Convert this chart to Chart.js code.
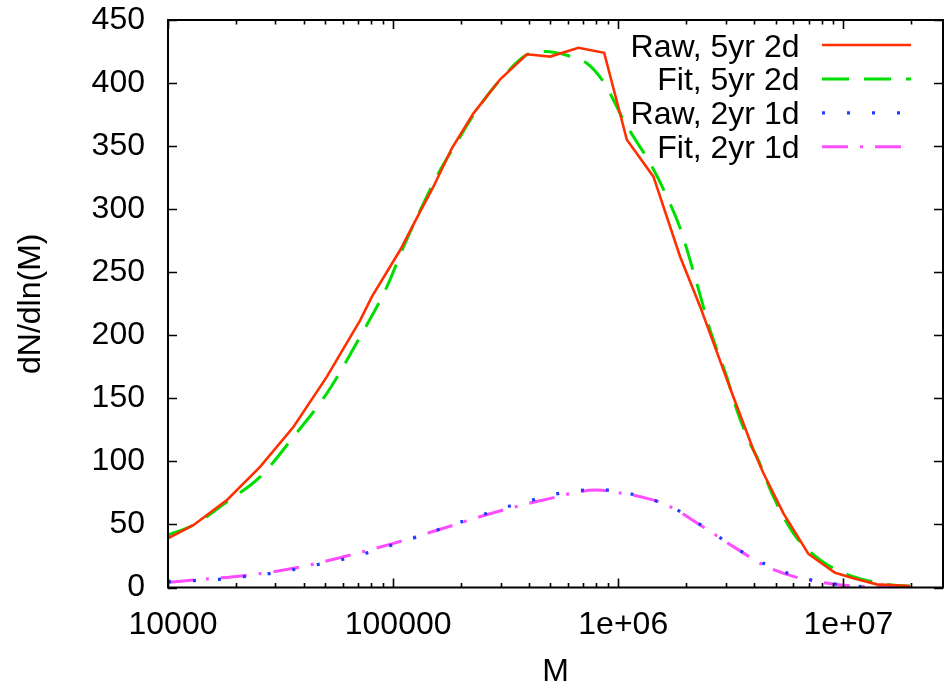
<!DOCTYPE html>
<html>
<head>
<meta charset="utf-8">
<title>dN/dln(M)</title>
<style>
  html, body { margin: 0; padding: 0; background: #ffffff; overflow: hidden; }
  #wrap { width: 944px; height: 689px; }
</style>
<script src="https://cdn.jsdelivr.net/npm/chart.js@4.4.0/dist/chart.umd.min.js"></script>
</head>
<body>
<div id="wrap"><canvas id="c" width="944" height="689"></canvas></div>
<script>
// Mass bins and counts, raw 5yr 2d sample
const raw5Mass  = [1.0e4, 1.30e4, 1.828e4, 2.57e4, 3.612e4, 5.08e4, 7.145e4, 8.05e4, 1.075e5, 1.318e5,
                   1.51e5, 1.823e5, 2.274e5, 2.99e5, 3.927e5, 4.985e5, 6.655e5, 8.656e5, 1.092e6, 1.433e6,
                   1.883e6, 2.311e6, 3.247e6, 3.985e6, 4.415e6, 5.415e6, 6.993e6, 9.186e6, 1.108e7, 1.407e7, 1.978e7];
const raw5Count = [39, 49.6, 69.4, 95.8, 127.5, 167.2, 212, 230.6, 267.6, 298,
                   317.8, 348.3, 376, 403, 422.8, 421, 428, 424, 355, 325.8,
                   262.3, 222.7, 151, 109, 90.6, 58.8, 26.6, 11.7, 7.3, 2.5, 1.2];

// Fitted curve, 5yr 2d sample
const fit5Mass  = [1.0e4, 1.30e4, 1.828e4, 2.57e4, 3.612e4, 5.08e4, 7.145e4, 9.386e4, 1.112e5, 1.343e5,
                   1.619e5, 1.986e5, 2.274e5, 2.99e5, 4.062e5, 4.737e5, 5.913e5, 7.253e5, 8.595e5, 9.521e5,
                   1.055e6, 1.168e6, 1.386e6, 1.644e6, 1.883e6, 2.234e6, 2.559e6, 3.035e6, 3.362e6, 3.853e6,
                   4.126e6, 4.89e6, 5.998e6, 7.883e6, 1.108e7, 1.559e7, 1.978e7];
const fit5Count = [41.6, 49.6, 68, 87.9, 119.6, 154, 199, 238.5, 270, 302,
                   331, 357.5, 374.7, 402.5, 423.6, 425, 422, 415.7, 401, 386.6,
                   370.7, 357.5, 336.4, 310, 285, 241, 204, 167, 140.8, 114,
                   103.7, 72, 43, 21.8, 8.6, 2.5, 1];

// Mass bins and counts, raw 2yr 1d sample
const raw2Mass  = [1.0e4, 1.30e4, 1.678e4, 2.166e4, 2.752e4, 3.553e4, 4.51e4, 5.824e4, 7.389e4, 9.386e4,
                   1.191e5, 1.511e5, 1.92e5, 3.092e5, 3.927e5, 4.985e5, 6.435e5, 8.308e5, 1.055e6, 1.34e6,
                   1.766e6, 2.166e6, 2.604e6, 3.247e6, 3.985e6, 6.312e6, 1.035e7, 1.455e7];
const raw2Count = [4.5, 5.5, 6.5, 8.6, 10.7, 13.9, 17.8, 21.8, 26.6, 32.4,
                   38.2, 44.6, 50.9, 63.3, 68, 73.4, 76.8, 78, 75.5, 71.5,
                   63.3, 53.5, 43.5, 32.9, 22.4, 7.8, 1.2, 0.3];

// Fitted curve, 2yr 1d sample
const fit2Mass  = [1.0e4, 1.30e4, 2.166e4, 3.612e4, 6.024e4, 1.004e5, 1.674e5, 2.792e5, 4.654e5, 8.035e5,
                   1.055e6, 1.34e6, 1.644e6, 2.311e6, 3.247e6, 4.57e6, 6.425e6, 9.029e6, 1.27e7, 1.786e7];
const fit2Count = [4.1, 5.9, 9.4, 15.2, 24.4, 35, 47, 59.3, 69.4, 77.3,
                   74.5, 70.7, 65.4, 49.6, 32.4, 16.5, 7.3, 2.8, 0.6, 0];

const seriesLabels = ['Raw, 5yr 2d', 'Fit, 5yr 2d', 'Raw, 2yr 1d', 'Fit, 2yr 1d'];

// Axis ticks
const xTickValues = [1e4, 1e5, 1e6, 1e7];
const xTickLabels = ['10000', '100000', '1e+06', '1e+07'];
const yTickValues = [0, 50, 100, 150, 200, 250, 300, 350, 400, 450];
const yTickLabels = ['0', '50', '100', '150', '200', '250', '300', '350', '400', '450'];

const xMin = 1e4, xMax = 2.77e7;
const FONT = 'Liberation Sans, Arial, Helvetica, sans-serif';

function pairs(xs, ys) {
  return xs.map((x, i) => ({ x: x, y: ys[i] }));
}

// Border box with inward major/minor tick marks on all four sides
const framePlugin = {
  id: 'frame',
  afterDraw(chart) {
    const { ctx, chartArea: a, scales: { x, y } } = chart;
    ctx.save();
    ctx.strokeStyle = '#000';
    ctx.lineWidth = 2;
    ctx.lineCap = 'butt';
    ctx.strokeRect(a.left, a.top, a.right - a.left, a.bottom - a.top);
    ctx.lineWidth = 1.6;
    ctx.beginPath();
    for (let d = 4; d <= 7; d++) {
      for (let m = 1; m <= 9; m++) {
        const v = m * Math.pow(10, d);
        if (v < xMin || v > xMax) continue;
        const px = Math.round(x.getPixelForValue(v)) + 0.5;
        const len = (m === 1) ? 9 : 4.5;
        ctx.moveTo(px, a.bottom); ctx.lineTo(px, a.bottom - len);
        ctx.moveTo(px, a.top); ctx.lineTo(px, a.top + len);
      }
    }
    yTickValues.forEach(v => {
      const py = Math.round(y.getPixelForValue(v)) + 0.5;
      ctx.moveTo(a.left, py); ctx.lineTo(a.left + 9, py);
      ctx.moveTo(a.right, py); ctx.lineTo(a.right - 9, py);
    });
    ctx.stroke();
    ctx.restore();
  }
};

// Key in the upper right: right-aligned labels followed by line samples
const keyPlugin = {
  id: 'key',
  afterDraw(chart) {
    const ctx = chart.ctx;
    ctx.save();
    ctx.font = '32px ' + FONT;
    ctx.fillStyle = '#000';
    ctx.textAlign = 'right';
    ctx.textBaseline = 'alphabetic';
    chart.data.datasets.forEach((ds, i) => {
      const yy = 45 + i * 33.9;
      ctx.fillText(ds.label, 799.5, yy + 11.5);
      ctx.beginPath();
      ctx.strokeStyle = ds.borderColor;
      ctx.lineWidth = ds.borderWidth;
      ctx.lineCap = 'butt';
      ctx.setLineDash(ds.borderDash || []);
      ctx.moveTo(822, yy);
      ctx.lineTo(911, yy);
      ctx.stroke();
    });
    ctx.restore();
  }
};

new Chart(document.getElementById('c'), {
  type: 'scatter',
  data: {
    datasets: [
      { label: seriesLabels[0], data: pairs(raw5Mass, raw5Count), showLine: true,
        borderColor: '#ff3000', borderWidth: 2.6, borderDash: [], tension: 0, pointRadius: 0 },
      { label: seriesLabels[1], data: pairs(fit5Mass, fit5Count), showLine: true,
        borderColor: '#00e000', borderWidth: 3, borderDash: [27, 15], cubicInterpolationMode: 'monotone', pointRadius: 0 },
      { label: seriesLabels[2], data: pairs(raw2Mass, raw2Count), showLine: true,
        borderColor: '#1e3cff', borderWidth: 3.2, borderDash: [3, 22], tension: 0, pointRadius: 0 },
      { label: seriesLabels[3], data: pairs(fit2Mass, fit2Count), showLine: true,
        borderColor: '#ff4cff', borderWidth: 3, borderDash: [26, 12, 3, 12], cubicInterpolationMode: 'monotone', pointRadius: 0 }
    ]
  },
  options: {
    responsive: false,
    animation: false,
    devicePixelRatio: 1,
    layout: { padding: { top: 20, right: 1, left: 0, bottom: 0 } },
    plugins: { legend: { display: false }, tooltip: { enabled: false } },
    scales: {
      x: {
        type: 'logarithmic',
        min: xMin, max: xMax,
        grid: { display: false, drawTicks: false },
        border: { display: false },
        afterBuildTicks(s) { s.ticks = xTickValues.map(v => ({ value: v })); },
        afterFit(s) { s.height = 101.5; s.paddingLeft = 0; s.paddingRight = 0; },
        ticks: {
          autoSkip: false, maxRotation: 0, padding: 18, labelOffset: 5,
          color: '#000', font: { family: FONT, size: 32 },
          callback: (v, i) => xTickLabels[i]
        },
        title: { display: true, text: 'M', color: '#000',
                 font: { family: FONT, size: 32, lineHeight: 1 }, padding: { top: 0, bottom: 1 } }
      },
      y: {
        type: 'linear',
        min: 0, max: 450,
        grid: { display: false, drawTicks: false },
        border: { display: false },
        afterBuildTicks(s) { s.ticks = yTickValues.map(v => ({ value: v })); },
        afterFit(s) { s.width = 168; s.paddingTop = 0; s.paddingBottom = 0; },
        ticks: {
          autoSkip: false, padding: 23,
          color: '#000', font: { family: FONT, size: 32 },
          callback: (v, i) => yTickLabels[i]
        },
        title: { display: true, text: 'dN/dln(M)', color: '#000',
                 font: { family: FONT, size: 32, lineHeight: 1 }, padding: { top: 15, bottom: 0 } }
      }
    }
  },
  plugins: [framePlugin, keyPlugin]
});
</script>
</body>
</html>
